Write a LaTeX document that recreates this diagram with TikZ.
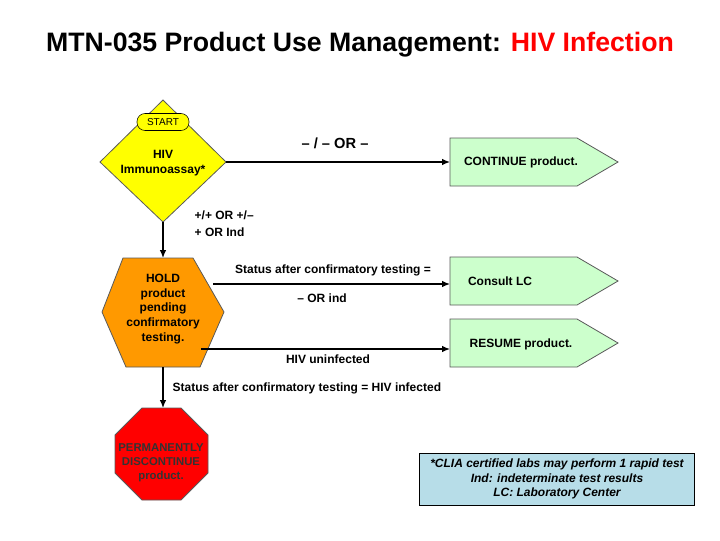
\documentclass[tikz,border=0pt]{standalone}
\usepackage{fontspec}
\setmainfont{Liberation Sans}
\usetikzlibrary{arrows.meta}
\definecolor{yel}{HTML}{FFFF00}
\definecolor{org}{HTML}{FF9900}
\definecolor{grn}{HTML}{CCFFCC}
\definecolor{blu}{HTML}{B7DDE8}
\begin{document}
\begin{tikzpicture}[x=0.75pt,y=-0.75pt,
  lbl/.style={font=\fontsize{9}{11}\selectfont\bfseries,align=center},
  conn/.style={draw,line width=1pt,-{Latex[length=6pt,width=5pt]}},
  shp/.style={draw=gray!70!black,line width=0.6pt}]
\useasboundingbox (0,0) rectangle (720,540);
\node[font=\fontsize{20}{24}\selectfont\bfseries] (title) at (360,45) {MTN-035 Product Use Management: \textcolor{red}{HIV Infection}};
% diamond
\filldraw[shp,fill=yel] (163,100) -- (226,162) -- (163,222) -- (100,162) -- cycle;
\node[lbl] (hiv) at (163,163) {HIV\\Immunoassay*};
\node[draw,fill=yel,rounded corners=6pt,minimum width=52pt*0.75,minimum height=17pt*0.75,inner sep=1pt,font=\fontsize{7.5}{9}\selectfont] (start) at (163,122) {START};
% pentagons
\foreach \y in {162,281,343}{
  \filldraw[shp,fill=grn] (450,\y-24) -- (577,\y-24) -- (618,\y) -- (577,\y+24) -- (450,\y+24) -- cycle;
}
\coordinate (contin) at (450,162);
\coordinate (lcin) at (450,284);
\coordinate (resin) at (450,349);
\node[lbl] (contt) at (521,162) {CONTINUE product.};
\node[lbl] (lct) at (500,281) {Consult LC};
\node[lbl] (rest) at (521,344) {RESUME product.};
% hexagon
\filldraw[shp,fill=org] (123,258) -- (193,258) -- (224,312) -- (200,367) -- (126,367) -- (102,312) -- cycle;
\node[lbl] (hold) at (163,309) {HOLD\\product\\pending\\confirmatory\\testing.};
% octagon
\filldraw[shp,fill=red] (142,408) -- (181,408) -- (208,435) -- (208,473) -- (181,500) -- (142,500) -- (115,473) -- (115,435) -- cycle;
\node[font=\fontsize{8.5}{10.5}\selectfont\bfseries,align=center,text=black!80] (perm) at (161,463) {PERMANENTLY\\DISCONTINUE\\product.};
% note
\node[draw,fill=blu,minimum width=275pt*0.75,minimum height=52pt*0.75,font=\fontsize{9}{11}\selectfont\bfseries\itshape,align=center,inner sep=1pt] (note) at (557,479) {*CLIA certified labs may perform 1 rapid test\\Ind: indeterminate test results\\LC: Laboratory Center};
% connectors
\coordinate (dr) at (226,162);
\coordinate (db) at (163,222);
\coordinate (ht) at (163,258);
\coordinate (hr1) at (213,284);
\coordinate (hr2) at (201,349);
\coordinate (hb) at (163,367);
\coordinate (ot) at (163,408);
\draw[conn] (dr) -- (contin);
\draw[conn] (db) -- (ht);
\draw[conn] (hr1) -- (lcin);
\draw[conn] (hr2) -- (resin);
\draw[conn] (hb) -- (ot);
\node[font=\fontsize{11}{13}\selectfont\bfseries] (orl) at (335,143) {– / – OR –};
\node[lbl,align=left,anchor=west] (pl) at (190,224) {+/+ OR +/–\\[2pt]+ OR Ind};
\node[lbl] (st1) at (333,270) {Status after confirmatory testing =};
\node[lbl] (st2) at (322,298) {– OR ind};
\node[lbl] (st3) at (328,359) {HIV uninfected};
\node[lbl,anchor=west] (st4) at (168,388) {Status after confirmatory testing = HIV infected};
\end{tikzpicture}
\end{document}
